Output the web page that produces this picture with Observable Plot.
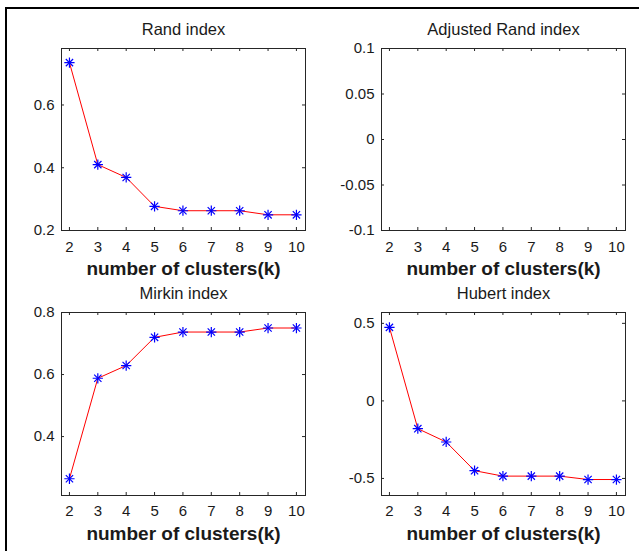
<!DOCTYPE html>
<html><head><meta charset="utf-8">
<script src="https://cdn.jsdelivr.net/npm/d3@7"></script>
<script src="https://cdn.jsdelivr.net/npm/@observablehq/plot@0.6"></script>
<style>
body{margin:0;background:#fff;width:639px;height:551px;position:relative;overflow:hidden;font-family:"Liberation Sans",Arial,sans-serif}
#border{position:absolute;left:5px;top:7px;right:0;bottom:0;border-left:2px solid #000;border-top:2px solid #000}
.panel{position:absolute}
</style></head><body><div id="border"></div><div id="root"></div>
<script>
// Data
const k = [2, 3, 4, 5, 6, 7, 8, 9, 10];
const randIndex = [0.735, 0.41, 0.369, 0.277, 0.263, 0.263, 0.263, 0.25, 0.25];
const adjustedRandIndex = [null, null, null, null, null, null, null, null, null];
const mirkinIndex = [0.264, 0.588, 0.629, 0.72, 0.737, 0.737, 0.737, 0.75, 0.75];
const hubertIndex = [0.474, -0.179, -0.265, -0.45, -0.485, -0.485, -0.485, -0.507, -0.507];
const titles = ["Rand index", "Adjusted Rand index", "Mirkin index", "Hubert index"];
const xLabel = "number of clusters(k)";
const xTicks = [2, 3, 4, 5, 6, 7, 8, 9, 10];
const yTicksRand = [0.2, 0.4, 0.6];
const yTicksAdj = [-0.1, -0.05, 0, 0.05, 0.1];
const yTicksMirkin = [0.4, 0.6, 0.8];
const yTicksHubert = [-0.5, 0, 0.5];
const yDomRand = [0.2, 0.78];
const yDomAdj = [-0.1, 0.1];
const yDomMirkin = [0.21, 0.8];
const yDomHubert = [-0.61, 0.57];
const xDomain = [1.72, 10.32];

const series = [randIndex, adjustedRandIndex, mirkinIndex, hubertIndex];
const yTicks = [yTicksRand, yTicksAdj, yTicksMirkin, yTicksHubert];
const yDoms = [yDomRand, yDomAdj, yDomMirkin, yDomHubert];

const layout = [
  {left: 0, top: 0, h: 275, mt: 48, mb: 45, pad: 11},
  {left: 320, top: 0, h: 275, mt: 48, mb: 45, pad: 11},
  {left: 0, top: 275, h: 276, mt: 37, mb: 56, pad: 10},
  {left: 320, top: 275, h: 276, mt: 37, mb: 56, pad: 10}
];

const root = document.getElementById("root");
const W = 320, ml = 61, mr = 15, tick = 3;

series.forEach((vals, i) => {
  const L = layout[i];
  const data = k.map((kk, j) => ({k: kk, v: vals[j]}));
  const fw = W - ml - mr, fh = L.h - L.mt - L.mb;
  const fmt = d => String(d);
  const chart = Plot.plot({
    width: W, height: L.h,
    marginLeft: ml, marginRight: mr, marginTop: L.mt, marginBottom: L.mb,
    style: {background: "transparent", fontFamily: "'Liberation Sans', Arial, sans-serif", color: "#1a1a1a", overflow: "visible"},
    x: {domain: xDomain},
    y: {domain: yDoms[i]},
    marks: [
      Plot.axisX({ticks: xTicks, tickSize: 0, tickPadding: L.pad, fontSize: 15, label: null, tickFormat: fmt}),
      Plot.axisY({ticks: yTicks[i], tickSize: 0, tickPadding: 7, fontSize: 15, label: null, tickFormat: fmt}),
      Plot.ruleX(xTicks, {x: d => d, insetTop: fh - tick, stroke: "#262626"}),
      Plot.ruleX(xTicks, {x: d => d, insetBottom: fh - tick, stroke: "#262626"}),
      Plot.ruleY(yTicks[i], {y: d => d, insetRight: fw - tick, stroke: "#262626"}),
      Plot.ruleY(yTicks[i], {y: d => d, insetLeft: fw - tick, stroke: "#262626"}),
      Plot.line(data, {x: "k", y: "v", stroke: "#ff0000", strokeWidth: 1}),
      Plot.dot(data, {x: "k", y: "v", symbol: "plus", r: 3.4, stroke: "#0000ff", strokeWidth: 1.2}),
      Plot.dot(data, {x: "k", y: "v", symbol: "times", r: 3.4, stroke: "#0000ff", strokeWidth: 1.2}),
      Plot.frame({stroke: "#262626"}),
      Plot.text([titles[i]], {text: d => d, frameAnchor: "top", lineAnchor: "middle", dy: -19, fontSize: 16.5, fill: "#1a1a1a"}),
      Plot.text([xLabel], {text: d => d, frameAnchor: "bottom", lineAnchor: "middle", dy: 38, fontSize: 19, fontWeight: "bold", fill: "#1a1a1a"})
    ]
  });
  chart.classList.add("panel");
  chart.style.left = L.left + "px";
  chart.style.top = L.top + "px";
  root.appendChild(chart);
});
</script>
</body></html>
